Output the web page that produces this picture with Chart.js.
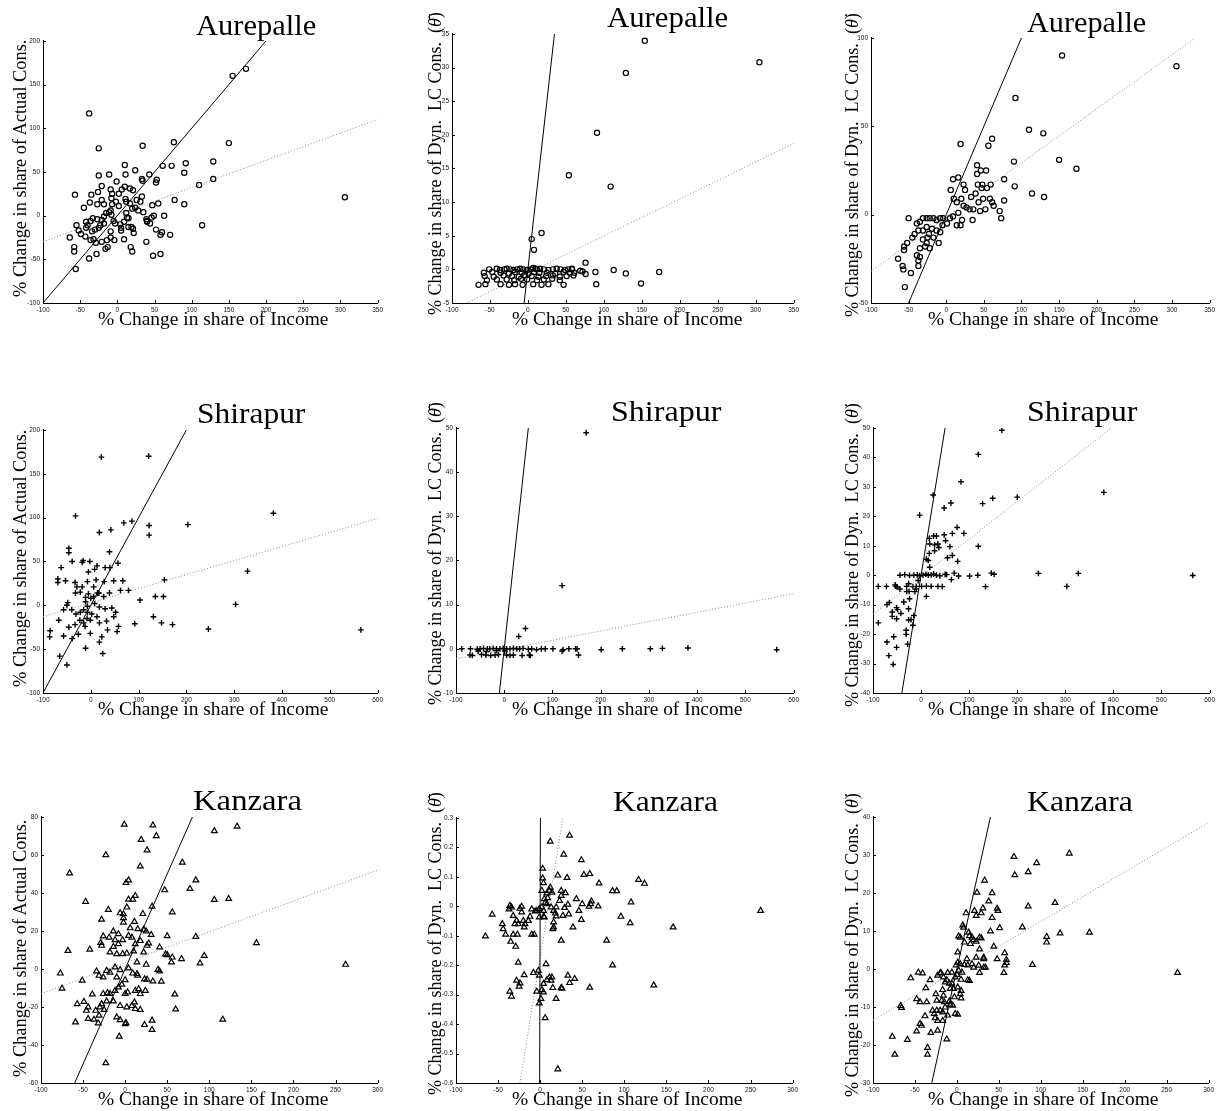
<!DOCTYPE html>
<html>
<head>
<meta charset="utf-8">
<script src="https://cdn.jsdelivr.net/npm/chart.js@4.4.1/dist/chart.umd.min.js"></script>
<style>
  body { margin: 0; background: #fff; }
  #page { position: relative; width: 1220px; height: 1111px; overflow: hidden; }
  canvas { position: absolute; }
  .lbl { position: absolute; font-family: "Liberation Serif", serif; color: #000; white-space: nowrap; line-height: 1; transform-origin: 0 0; }
</style>
</head>
<body>
<div id="page"></div>
<script>
// tick values
const xTicksAur = [-100, -50, 0, 50, 100, 150, 200, 250, 300, 350];
const xTicksShi = [-100, 0, 100, 200, 300, 400, 500, 600];
const xTicksKan = [-100, -50, 0, 50, 100, 150, 200, 250, 300];
const yTicksAurActual = [-100, -50, 0, 50, 100, 150, 200];
const yTicksAurBar = [-5, 0, 5, 10, 15, 20, 25, 30, 35];
const yTicksAurDot = [-50, 0, 50, 100];
const yTicksShiActual = [-100, -50, 0, 50, 100, 150, 200];
const yTicksShiBar = [-10, 0, 10, 20, 30, 40, 50];
const yTicksShiDot = [-40, -30, -20, -10, 0, 10, 20, 30, 40, 50];
const yTicksKanActual = [-60, -40, -20, 0, 20, 40, 60, 80];
const yTicksKanBar = [-0.6, -0.5, -0.4, -0.3, -0.2, -0.1, 0, 0.1, 0.2, 0.3];
const yTicksKanDot = [-30, -20, -10, 0, 10, 20, 30, 40];

// households: [% change in income share, % change in consumption share]
const aurActual = [[155,160],[173,168],[-38,117],[-25,77],[34,80],[76,84],[150,83],[306,21],[129,62],[92,60],[90,49],[73,57],[61,57],[129,42],[110,35],[114,-11],[90,13],[77,18],[63,0],[48,-46],[58,-44],[71,-22],[60,-19],[58,-22],[52,-16],[55,14],[47,12],[53,41],[52,38],[43,47],[33,42],[34,40],[24,52],[10,58],[11,47],[-11,47],[-1,39],[-25,46],[-21,34],[-9,30],[-26,27],[-35,24],[-57,24],[-37,15],[-45,9],[-55,-11],[-52,-17],[-49,-21],[-64,-25],[-58,-36],[-58,-41],[-56,-61],[-38,-49],[-28,-44],[-16,-38],[-36,-28],[-32,-27],[39,-30],[18,-36],[20,-41],[21,-15],[22,-20],[17,31],[21,29],[10,33],[6,30],[2,25],[33,22],[17,14],[12,16],[24,9],[28,6],[35,4],[40,-6],[46,-2],[49,0],[44,-9],[13,-2],[15,-3],[9,-7],[4,-10],[5,-17],[9,-27],[-4,-28],[-9,-25],[-9,-18],[-14,-28],[-13,-36],[-21,-30],[-29,-31],[-34,-18],[-30,-16],[-25,-14],[-40,-11],[-42,-7],[-36,-6],[-33,-3],[-27,-4],[-21,-5],[-18,-1],[-15,3],[-11,4],[-8,1],[-5,-6],[-3,-9],[-18,-9],[-23,-11],[-21,18],[-18,13],[-27,13],[-8,20],[-7,13],[-2,16],[2,11],[-7,25],[-9,6],[12,3],[20,8],[31,16],[26,18],[11,19],[40,-7],[39,-4],[19,-13],[15,-13],[5,-14],[-43,-24],[-42,-14]];
const aurBar = [[154,34],[305,30.8],[129,29.2],[91,20.3],[54,14],[109,12.3],[18,5.4],[5,4.5],[8,2.9],[76,1],[76,-0.7],[89,-0.4],[90,-2.2],[113,-0.1],[129,-0.6],[149,-2.1],[173,-0.4],[69,-0.2],[72,-0.3],[58,0],[60,-0.9],
  [-51,0],[-41,0.1],[-37,-0.1],[-31,0],[-28,0.1],[-23,0],[-19,-0.1],[-14,0],[-10,0.1],[-6,0],[-1,-0.1],[4,0],[7,0.2],[10,0.1],[12,0],[16,0.1],[21,0],[27,-0.1],[33,0],[38,0.1],[43,0],[49,-0.1],[53,0],[58,0.1],
  [-58,-0.5],[-47,-0.4],[-36,-0.5],[-25,-0.6],[-17,-0.4],[-8,-0.5],[1,-0.6],[8,-0.4],[15,-0.5],[25,-0.5],[36,-0.6],[47,-0.4],[55,-0.5],[61,-0.5],
  [-57,-1],[-45,-1.1],[-32,-0.9],[-21,-1],[-12,-1.1],[-5,-0.9],[5,-1],[14,-1.1],[24,-1],[33,-0.9],[42,-1.1],[51,-1],
  [-54,-1.6],[-41,-1.5],[-28,-1.5],[-18,-1.6],[-9,-1.4],[-1,-1.5],[12,-1.6],[21,-1.5],[32,-1.4],[42,-1.6],
  [-65,-2.3],[-56,-2.2],[-36,-2.2],[-25,-2.3],[-17,-2.2],[-7,-2.3],[7,-2.2],[18,-2.3],[27,-2.2],[47,-2.3]];
const aurDot = [[154,90],[306,84],[92,66],[110,48],[129,46],[61,43],[56,39],[19,40],[90,30],[150,31],[173,26],[91,16],[114,12],[130,10],[77,20],[77,8],[71,2],[73,-2],[59,17],[58,9],[61,7],[63,5],[53,25],[41,28],[41,23],[46,25],[42,17],[48,17],[47,15],[54,15],[39,12],[43,7],[45,2],[49,9],[52,3],[33,10],[36,3],[35,-3],[31,3],[27,4],[25,14],[23,17],[16,21],[9,20],[6,14],[10,9],[14,7],[20,9],[23,5],[16,1],[19,-6],[14,-6],[21,-3],[9,-1],[5,-2],[1,-5],[-4,-2],[-8,-2],[-13,-3],[-17,-2],[-22,-2],[-26,-2],[-31,-2],[-50,-2],[-35,-4],[-39,-5],[-37,-9],[-31,-9],[-26,-7],[-23,-11],[-19,-8],[-17,-13],[-13,-9],[-8,-10],[-5,-6],[-10,-16],[-42,-11],[-45,-13],[-52,-16],[-56,-18],[-56,-20],[-64,-25],[-58,-29],[-57,-31],[-55,-41],[-47,-33],[-39,-23],[-37,-26],[-35,-24],[-37,-29],[-31,-14],[-28,-18],[-26,-16],[-35,-19],[-22,-19],[-25,-13]];
const shiActual = [[22,169],[121,170],[-32,102],[382,105],[203,92],[122,91],[122,80],[86,96],[69,94],[42,86],[18,83],[39,61],[57,48],[40,43],[30,43],[13,45],[8,41],[-5,38],[-2,50],[-16,51],[-18,49],[-39,50],[-46,65],[-46,60],[-62,43],[-69,30],[-69,26],[-53,28],[-33,26],[-29,21],[-18,21],[-7,27],[11,29],[28,27],[48,28],[67,28],[79,17],[62,17],[39,14],[14,14],[6,10],[-5,13],[-11,9],[-22,15],[-32,14],[-48,3],[-50,0],[-57,-5],[-67,-17],[-85,-29],[-86,-36],[-65,-58],[-50,-68],[-11,-49],[25,-55],[18,-42],[23,-36],[-1,-32],[-26,-33],[-39,-38],[-57,-35],[-46,-25],[-33,-22],[-15,-20],[-1,-17],[18,-20],[33,-18],[35,-28],[55,-30],[58,-24],[48,-13],[52,-8],[44,-3],[30,-4],[18,-2],[8,2],[-7,-1],[-15,-5],[-22,-8],[-31,-10],[-40,-5],[-7,-8],[2,-10],[13,-13],[-8,-15],[-23,-17],[-12,-24],[103,6],[135,10],[152,10],[154,29],[131,-13],[148,-20],[171,-22],[92,-21],[246,-27],[303,1],[328,39],[565,-28],[6,21],[17,14],[27,10],[-11,4],[0,8]];
const shiBar = [[170,48.9],[120,14.3],[44,4.6],[30,2.8],[201,-0.2],[245,0],[303,0],[328,0.1],[381,0.2],[565,-0.2],[154,-1.4],[151,0],[148,0],[134,0],[122,-0.2],[120,-0.5],[101,0],[85,0],[77,0],[67,-0.2],[57,0],[52,-1.4],[54,-1.5],[37,-1.5],[50,-0.1],
  [-88,0],[-70,0],[-56,-0.1],[-50,0],[-43,0.1],[-35,0],[-30,0],[-23,0.1],[-16,0],[-9,0],[-2,0.1],[5,0],[12,0],[19,0.1],[26,0],[32,0],[39,0.1],
  [-71,-1.4],[-66,-1.5],[-47,-1.3],[-38,-1.4],[-28,-1.5],[-19,-1.4],[-12,-1.3],[5,-1.4],[12,-1.5],[19,-1.4],
  [-54,-0.5],[-37,-0.6],[-16,-0.4],[1,-0.5]];
const shiDot = [[168,49.2],[119,41],[83,31.7],[25,27.2],[200,26.5],[149,26.1],[128,24.3],[62,24.5],[48,22.8],[380,28.1],[-3,20.4],[75,16.2],[89,14.2],[65,14.2],[48,13.7],[51,11.7],[32,13.3],[26,13.3],[17,12.5],[18,10.6],[28,10.3],[35,10.6],[37,9.4],[28,8.3],[60,9.7],[119,9.8],[55,5.9],[76,4.7],[65,6.7],[17,7.4],[11,5.4],[15,5],[18,2.7],[146,0.7],[152,0.3],[244,0.6],[327,0.6],[565,-0.1],[303,-3.8],[134,-3.9],[118,0],[101,-0.3],[69,0.7],[78,-0.3],[63,-1.5],[50,0.3],[53,0.2],
  [-44,0],[-34,0.2],[-24,-0.1],[-15,0],[-8,0.1],[-3,-0.2],[4,0],[10,0.3],[15,0],[21,0.1],[26,0.4],[32,0],[39,-0.2],
  [-89,-3.8],[-72,-3.8],[-53,-3.7],[-30,-3.8],[-17,-3.9],[-10,-3.8],[1,-3.8],[11,-3.7],[21,-3.8],[35,-3.8],[44,-3.9],
  [-6,-1.8],[-10,-4.7],[-13,-5.6],[-26,-2.9],[-44,-4.7],[-50,-4],[-54,-3.3],[-30,-5.6],[-25,-5.5],[11,-7.2],[-36,-9.1],[-24,-8],[-26,-11.4],[-26,-15.2],[-21,-15.1],[-17,-17],[-15,-13.7],[-31,-18.7],[-31,-20.1],[-28,-23.4],[-66,-9.3],[-71,-10],[-51,-11],[-49,-11.7],[-60,-12.5],[-60,-14],[-51,-14.8],[-42,-13],[-89,-16.2],[-71,-22.7],[-67,-27.3],[-58,-30.3],[-57,-20.9],[-51,-24.5]];
const kanActual = [[-1,76],[33,75.6],[133,75],[37,70],[106,72.6],[19,68],[-23,60],[26,62.5],[68,56],[18,54],[-66,50.4],[4,46.7],[1,45.3],[84,46.7],[47,41.5],[77,42.2],[106,36.4],[123,36.9],[12,38.5],[9,36.6],[-47,35.4],[-20,31.2],[4,36.6],[-6,29.4],[-2,28.9],[2,32.4],[32,32.9],[56,29.8],[21,29],[-28,26],[11,24.9],[-2,24.5],[-2,26.8],[-14,19.8],[-8,18.4],[-26,17.2],[-19,16.6],[6,21.5],[15,21],[22,20.7],[25,19.8],[31,18],[50,17.3],[84,17],[4,17.5],[8,16.6],[-12,15.2],[-3,15.2],[12,13.1],[18,14.8],[26,12.3],[28,13.5],[-29,13.8],[-28,12.3],[-14,11.7],[-8,13.1],[-18,8.8],[-10,7.9],[-3,7.9],[2,8.2],[10,9.3],[22,8.8],[-42,10.2],[-68,9.6],[41,11.4],[48,7.7],[50,7.4],[56,6.1],[94,7],[67,5.3],[89,3],[55,3.5],[25,2.3],[14,3.5],[4,0.4],[-6,-0.5],[-12,0.9],[-18,-1.8],[-22,-0.9],[-34,-1.2],[-31,-3.5],[-77,-2.3],[-75,-10.3],[-51,-6.1],[-26,-4.4],[-10,-4.4],[0,-5.8],[9,-2.3],[14,-2.6],[15,-3.5],[39,-0.4],[41,-1.2],[23,-5.4],[26,-5.6],[33,-6.5],[43,-6.6],[262,2.3],[156,13.7],[116,-26.6],[59,-13.3],[60,-21.2],[-39,-13.3],[-26,-13.1],[-21,-12.6],[-18,-13.1],[-12,-11.4],[-8,-9.6],[-4,-8.2],[0,-13.1],[3,-12.3],[12,-11.4],[16,-10.5],[18,-13.1],[24,-11.4],[-57,-18.4],[-49,-17.2],[-44,-20.1],[-46,-21.9],[-35,-21.9],[-30,-20.1],[-25,-21.5],[-28,-18.4],[-22,-17],[-14,-17],[-6,-19.4],[2,-20.1],[8,-19.4],[12,-21],[18,-21.5],[11,-17.5],[-31,-24.5],[-44,-26.2],[-37,-26.6],[-59,-28],[-32,-28.5],[0,-28.9],[-10,-25.4],[-6,-26.8],[32,-27.1],[32,-32],[23,-29.4],[1,-28.4],[-7,-35.5],[-23,-49.5]];
const kanBar = [[35,0.24],[12,0.22],[28,0.176],[49,0.157],[3,0.128],[21,0.105],[32,0.097],[52,0.107],[59,0.11],[70,0.078],[117,0.09],[124,0.077],[86,0.052],[91,0.052],[108,0.014],[96,-0.035],[107,-0.057],[158,-0.071],[262,-0.015],[79,-0.116],[86,-0.2],[135,-0.268],[59,-0.276],[25,-0.116],[39,-0.071],[49,-0.046],[46,-0.015],[50,0.008],[60,0.008],[61,0.017],[58,-0.001],[69,0],[43,0.025],[33,0.006],[34,-0.027],[29,-0.005],[27,-0.032],[30,0.045],[25,0.053],[25,0.036],[23,0.019],[19,-0.003],[16,-0.015],[18,-0.024],[19,-0.034],[16,-0.054],[16,-0.071],[15,-0.077],[13,-0.003],[14,0.047],[12,0.064],[11,0.053],[8,0.044],[9,0.028],[6,0.012],[8,0.008],[5,-0.037],[3,0.095],[4,0.079],[2,0.053],[5,0.025],[2,-0.003],[4,-0.015],[-1,-0.009],[-4,-0.015],[-6,-0.017],[-10,-0.01],[-12,-0.035],[-14,-0.049],[-18,-0.06],[-20,-0.049],[-22,-0.02],[-24,-0.008],[-22,-0.001],[-19,-0.071],[-26,-0.06],[-28,-0.049],[-30,-0.06],[-32,-0.032],[-34,-0.003],[-37,-0.01],[-36,0.002],[-29,-0.137],[-35,-0.12],[-41,-0.096],[-44,-0.077],[-45,-0.06],[-57,-0.028],[-65,-0.102],[-32,-0.096],[-27,-0.096],[-10,-0.096],[-7,-0.096],[-26,-0.191],[-19,-0.233],[-28,-0.252],[-24,-0.261],[-25,-0.272],[-36,-0.289],[-34,-0.306],[-8,-0.226],[-2,-0.218],[-1,-0.235],[-4,-0.289],[-1,-0.329],[1,-0.314],[2,-0.284],[4,-0.292],[4,-0.263],[7,-0.196],[8,-0.25],[11,-0.241],[13,-0.252],[14,-0.241],[15,-0.277],[19,-0.314],[25,-0.277],[26,-0.279],[33,-0.235],[35,-0.26],[41,-0.246],[6,-0.379],[21,-0.553],[4,-0.035],[-1,-0.037]];
const kanDot = [[134,30.4],[68,29.5],[95,27.9],[85,25.5],[69,24.7],[33,23.3],[24,20.1],[42,20],[117,17.4],[85,16.5],[38,17.8],[31,16],[29,14.7],[11,14.7],[21,15.3],[23,14],[48,15.9],[49,15.3],[42,13.5],[78,11],[51,10.8],[40,9.9],[123,9.4],[158,9.6],[107,8.5],[107,7],[7,11.5],[8,10.9],[2,8.6],[4,8.3],[14,9.6],[15,8.7],[18,8.3],[20,7.6],[27,8.3],[29,8.1],[9,7],[16,6.6],[23,7.2],[27,5.2],[44,5.9],[57,4.2],[59,2.4],[48,2.6],[32,2.6],[32,3],[23,3],[12,2.6],[13,1],[9,1.1],[1,4.4],[1,1.7],[-1,1],[4,1.3],[18,1.3],[26,0.9],[20,0.4],[32,0.4],[34,0.4],[57,1],[59,1.6],[56,-1],[90,1.1],[263,-1],[27,-1],[13,-2.9],[15,-3.1],[6,-0.9],[2,-0.4],[0,-1.5],[-2,-2.2],[-6,-0.9],[5,-2.8],[1,-4.8],[5,-5.7],[4,-6.6],[5,-7.7],[-3,-7.4],[-5,-9.6],[-2,-11.8],[1,-12],[-6,-3.8],[-4,-5.2],[-9,-3.8],[-12,-2.9],[-16,-2.2],[-20,-1.1],[-23,-1.7],[-19,-1],[-14,-3.5],[-8,-5.2],[-17,-5.5],[-16,-7],[-15,-8.7],[-18,-8.3],[-9,-8.5],[-8,-9.4],[-14,-10.1],[-17,-11.4],[-20,-10.9],[-17,-13.6],[-11,-12.2],[-12,-18.5],[-23,-16.2],[-24,-8.3],[-25,-6.6],[-24,-10.9],[-27,-11.8],[-29,-10.9],[-26,-12.9],[-23,-13.6],[-31,-16.8],[-36,-8.7],[-37,-5],[-32,-2.9],[-41,-1.1],[-46,-0.9],[-55,-2.4],[-44,-8.7],[-38,-12.4],[-48,-7.9],[-42,-14.9],[-44,-14.4],[-48,-16.4],[-35,-20.7],[-35,-22.5],[-59,-18.6],[-67,-9.7],[-66,-10.2],[-77,-17.8],[-74,-22.5],[-11,-1]];

// 45 degree reference lines (y = x) and least squares fits (dotted)
const aurActualDiag = [[-100,-100],[200,200]], aurBarDiag = [[-5,-5],[35,35]], aurDotDiag = [[-50,-50],[100,100]];
const shiActualDiag = [[-100,-100],[200,200]], shiBarDiag = [[-10,-10],[50,50]], shiDotDiag = [[-40,-40],[50,50]];
const kanActualDiag = [[-60,-60],[80,80]], kanBarDiag = [[-0.6,-0.6],[0.3,0.3]], kanDotDiag = [[-30,-30],[40,40]];
const aurActualFit = [[-100,-30],[350,110]], aurBarFit = [[-81,-5],[350,18.7]], aurDotFit = [[-100,-32],[331,100]];
const shiActualFit = [[-100,-13],[600,99]], shiBarFit = [[-100,-2.3],[600,12.5]], shiDotFit = [[-100,-13.2],[396,50]];
const kanActualFit = [[-100,-13],[300,52]], kanBarFit = [[-24,-0.6],[27,0.3]], kanDotFit = [[-100,-13.5],[300,38.5]];

const page = document.getElementById('page');
const xy = arr => arr.map(p => ({ x: p[0], y: p[1] }));

const markers = {
  circle: { style: 'circle', r: 2.6, w: 1.2 },
  cross: { style: 'cross', r: 2.9, w: 1.4 },
  triangle: { style: 'triangle', r: 3.3, w: 1.2 }
};

// plot rect = [left, top, right, bottom] in page px
const panels = [
  { rect: [43, 40, 378, 303], pts: aurActual, diag: aurActualDiag, fit: aurActualFit, xt: xTicksAur, yt: yTicksAurActual, m: 'circle' },
  { rect: [452, 33, 794, 303], pts: aurBar, diag: aurBarDiag, fit: aurBarFit, xt: xTicksAur, yt: yTicksAurBar, m: 'circle' },
  { rect: [871, 37, 1210, 303], pts: aurDot, diag: aurDotDiag, fit: aurDotFit, xt: xTicksAur, yt: yTicksAurDot, m: 'circle' },
  { rect: [43, 429, 378, 693], pts: shiActual, diag: shiActualDiag, fit: shiActualFit, xt: xTicksShi, yt: yTicksShiActual, m: 'cross' },
  { rect: [456, 427, 794, 693], pts: shiBar, diag: shiBarDiag, fit: shiBarFit, xt: xTicksShi, yt: yTicksShiBar, m: 'cross' },
  { rect: [873, 427, 1210, 693], pts: shiDot, diag: shiDotDiag, fit: shiDotFit, xt: xTicksShi, yt: yTicksShiDot, m: 'cross' },
  { rect: [41, 816, 378, 1083], pts: kanActual, diag: kanActualDiag, fit: kanActualFit, xt: xTicksKan, yt: yTicksKanActual, m: 'triangle' },
  { rect: [456, 817, 793, 1083], pts: kanBar, diag: kanBarDiag, fit: kanBarFit, xt: xTicksKan, yt: yTicksKanBar, m: 'triangle' },
  { rect: [873, 816, 1209, 1083], pts: kanDot, diag: kanDotDiag, fit: kanDotFit, xt: xTicksKan, yt: yTicksKanDot, m: 'triangle' }
];

// matlab style ticks pointing into the plot
const inwardTicks = {
  id: 'inwardTicks',
  afterDraw(chart) {
    const { ctx, chartArea: a, scales: { x, y } } = chart;
    ctx.save();
    ctx.strokeStyle = '#000';
    ctx.lineWidth = 1;
    ctx.beginPath();
    x.ticks.forEach(t => {
      const p = Math.round(x.getPixelForValue(t.value)) + 0.5;
      ctx.moveTo(p, a.bottom); ctx.lineTo(p, a.bottom - 3);
    });
    y.ticks.forEach(t => {
      const p = Math.round(y.getPixelForValue(t.value)) + 0.5;
      ctx.moveTo(a.left, p); ctx.lineTo(a.left + 3, p);
    });
    ctx.stroke();
    ctx.restore();
  }
};

const tickFont = { family: 'Liberation Sans', size: 6.5 };

panels.forEach(p => {
  const [l, t, r, b] = p.rect;
  const W = r - l + 48, H = b - t + 26;
  const c = document.createElement('canvas');
  c.width = W; c.height = H;
  c.style.left = (l - 40) + 'px'; c.style.top = (t - 6) + 'px';
  c.style.width = W + 'px'; c.style.height = H + 'px';
  page.appendChild(c);
  const mk = markers[p.m];
  new Chart(c, {
    type: 'scatter',
    data: {
      datasets: [
        { data: xy(p.pts), pointStyle: mk.style, pointRadius: mk.r, pointBorderColor: '#000', pointBackgroundColor: 'rgba(0,0,0,0)', pointBorderWidth: mk.w },
        { data: xy(p.diag), showLine: true, borderColor: '#000', borderWidth: 1, pointRadius: 0 },
        { data: xy(p.fit), showLine: true, borderColor: '#8c8c8c', borderWidth: 1, borderDash: [1, 2], pointRadius: 0 }
      ]
    },
    options: {
      responsive: false,
      animation: false,
      events: [],
      layout: { padding: { top: 6, right: 8, left: 0, bottom: 0 } },
      plugins: { legend: { display: false }, tooltip: { enabled: false } },
      scales: {
        x: {
          type: 'linear', min: p.xt[0], max: p.xt[p.xt.length - 1],
          afterBuildTicks: s => { s.ticks = p.xt.map(v => ({ value: v })); },
          afterFit: s => { s.height = 20; },
          grid: { display: false, drawTicks: false },
          border: { display: true, color: '#000', width: 1 },
          ticks: { autoSkip: false, maxRotation: 0, padding: 3, font: tickFont, color: '#111', callback: v => String(v) }
        },
        y: {
          type: 'linear', min: p.yt[0], max: p.yt[p.yt.length - 1],
          afterBuildTicks: s => { s.ticks = p.yt.map(v => ({ value: v })); },
          afterFit: s => { s.width = 40; },
          grid: { display: false, drawTicks: false },
          border: { display: true, color: '#000', width: 1 },
          ticks: { autoSkip: false, padding: 3, font: tickFont, color: '#111', callback: v => String(v) }
        }
      }
    },
    plugins: [inwardTicks]
  });
});

// text: titles and axis labels
function addText(html, x, y, size, len, rotate) {
  const d = document.createElement('div');
  d.className = 'lbl';
  d.innerHTML = html;
  d.style.fontSize = size + 'px';
  page.appendChild(d);
  const s = len / d.offsetWidth;
  const asc = 0.8375 * size;
  if (rotate) {
    d.style.left = (x - asc) + 'px';
    d.style.top = y + 'px';
    d.style.transform = 'rotate(-90deg) scaleX(' + s + ')';
  } else {
    d.style.left = x + 'px';
    d.style.top = (y - asc) + 'px';
    d.style.transform = 'scaleX(' + s + ')';
  }
}

const titles = [
  ['Aurepalle', 196, 35, 120], ['Aurepalle', 607, 27, 121], ['Aurepalle', 1027, 32, 119],
  ['Shirapur', 197, 423, 108], ['Shirapur', 611, 421, 110], ['Shirapur', 1027, 421, 110],
  ['Kanzara', 193, 810, 109], ['Kanzara', 613, 811, 105], ['Kanzara', 1027, 811, 106]
];
titles.forEach(tt => addText(tt[0], tt[1], tt[2], 30, tt[3], false));

const xLabel = '% Change in share of Income';
const yLabels = [
  '% Change in share of Actual Cons.',
  '% Change in share of Dyn.&nbsp; LC Cons.&nbsp; (<i>&theta;&#772;</i>)',
  '% Change in share of Dyn.&nbsp; LC Cons.&nbsp; (<i>&theta;&#775;</i>)'
];
const rowOff = [0, 390, 780];
const xLabelLeft = [98, 512, 928];
const yLabelPos = [[26, 297, 257], [441, 315, 303], [858, 317, 304]];
rowOff.forEach(off => {
  for (let col = 0; col < 3; col++) {
    addText(xLabel, xLabelLeft[col], 325 + off, 18, 230, false);
    const yp = yLabelPos[col];
    addText(yLabels[col], yp[0], yp[1] + off, 18, yp[2], true);
  }
});
</script>
</body>
</html>
